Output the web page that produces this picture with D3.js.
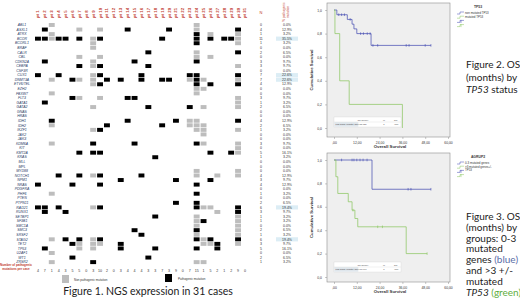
<!DOCTYPE html>
<html>
<head>
<meta charset="utf-8">
<script src="https://cdn.jsdelivr.net/npm/d3@7"></script>
<style>
body { margin: 0; background: #fff; }
svg { display: block; font-family: "Liberation Sans", Arial, sans-serif; }
.cap { font-family: Lato, "Open Sans", sans-serif; }
</style>
</head>
<body>
<div id="container"></div>
<script>
/* CONSTANTS AND GLOBALS */
const width = 520;
const height = 298;

/* DATA - figure 1 */
const genes = ["ABL1","ASXL1","ATRX","BCOR","BCORL1","BRAF","CALR","CBL","CDKN2A","CEBPA","CSF3R","CUX1","DNMT3A","ETV6/TEL","EZH2","FBXW7","FLT3","GATA1","GATA2","GNAS","HRAS","IDH1","IDH2","IKZF1","JAK2","JAK3","KDM6A","KIT","KMT2A","KRAS","MLL","MPL","MYD88","NOTCH1","NPM1","NRAS","PDGFRA","PHF6","PTEN","PTPN11","RAD21","RUNX1","SETBP1","SF3B1","SMC1A","SMC3","SRSF2","STAG2","TET2","TP53","U2AF1","WT1","ZRSR2"];
const patients = ["pt 1","pt 2","pt 3","pt 4","pt 5","pt 6","pt 7","pt 8","pt 9","pt 10","pt 11","pt 12","pt 13","pt 14","pt 15","pt 16","pt 17","pt 18","pt 19","pt 20","pt 21","pt 22","pt 23","pt 24","pt 25","pt 26","pt 27","pt 28","pt 29","pt 30","pt 31"];
const geneCounts = [0,4,1,11,1,0,2,0,3,3,0,7,7,4,0,0,3,1,2,0,0,4,2,1,0,0,3,0,5,1,0,0,0,4,3,4,0,1,0,2,6,3,1,1,0,2,1,6,3,5,0,2,1];
const genePct = ["0.0%","12.9%","3.2%","35.5%","3.2%","0.0%","6.5%","0.0%","9.7%","9.7%","0.0%","22.6%","22.6%","12.9%","0.0%","0.0%","9.7%","3.2%","6.5%","0.0%","0.0%","12.9%","6.5%","3.2%","0.0%","0.0%","9.7%","0.0%","16.1%","3.2%","0.0%","0.0%","0.0%","12.9%","9.7%","12.9%","0.0%","3.2%","0.0%","6.5%","19.4%","9.7%","3.2%","3.2%","0.0%","6.5%","3.2%","19.4%","9.7%","16.1%","0.0%","6.5%","3.2%"];
const highlighted = ["BCOR","CUX1","DNMT3A","RAD21","STAG2"];
const caseCounts = [4,7,1,4,3,5,5,0,3,10,2,0,3,4,4,4,3,3,7,3,9,0,7,15,1,5,2,1,2,9,0];

// pathogenic (black) and non pathogenic (grey) mutations: gene -> patient numbers
const pathogenic = [
  ["ASXL1",[2,14,20,30]], ["ATRX",[24]], ["BCOR",[1,2,4,5,7,10,19,24,26,28,29]], ["BCORL1",[24]],
  ["CALR",[17,30]], ["CDKN2A",[2,15,24]], ["CEBPA",[7,10,17]], ["CUX1",[1,4,10,16,23,24,30]],
  ["DNMT3A",[6,11,13,16,19,20,24]], ["ETV6/TEL",[10,24,26,30]], ["FLT3",[6,14,15]], ["GATA1",[2]],
  ["GATA2",[17,23]], ["IDH1",[3,14,21,30]], ["IDH2",[11,19]], ["IKZF1",[10]], ["KDM6A",[9,15,24]],
  ["KMT2A",[7,9,10,26,29]], ["KRAS",[18]], ["NOTCH1",[4,7,10,16]], ["NPM1",[13,21,26]],
  ["NRAS",[1,6,10,24]], ["PHF6",[24]], ["PTPN11",[21,24]], ["RAD21",[1,2,4,10,24,30]],
  ["RUNX1",[2,5,30]], ["SETBP1",[18]], ["SF3B1",[25]], ["SMC3",[15,24]], ["SRSF2",[16]],
  ["STAG2",[5,7,10,24,26,30]], ["TET2",[6,13,27]], ["TP53",[2,13,18,24,27]], ["WT1",[6,17]], ["ZRSR2",[9]]
];
const nonPathogenic = [
  ["ABL1",[3,24]], ["ASXL1",[7,10,24]], ["ATRX",[3,26,30]], ["BCOR",[3,9,30]], ["BCORL1",[9,30]],
  ["BRAF",[9]], ["CALR",[24]], ["CBL",[7,10,24,26]], ["CDKN2A",[9]], ["CEBPA",[9,30]], ["CUX1",[9]],
  ["DNMT3A",[3,7,9,23,25,30]], ["ETV6/TEL",[9]], ["EZH2",[24,25]], ["FBXW7",[3,24]], ["FLT3",[7,10,30]],
  ["GATA1",[30]], ["GATA2",[9,25,30]], ["IDH1",[23,24]], ["IDH2",[3,23,24,25]], ["IKZF1",[9,24,25,30]],
  ["JAK2",[25]], ["KDM6A",[3,25,30]], ["KIT",[30]], ["KMT2A",[30]], ["MYD88",[24,30]],
  ["NOTCH1",[9,24,27,30]], ["PHF6",[3]], ["RAD21",[9,25,26]], ["RUNX1",[27]], ["SETBP1",[24,30]],
  ["SF3B1",[24,30]], ["SMC1A",[24,30]], ["SMC3",[24,30]], ["SRSF2",[24,30]], ["STAG2",[3,9,25]],
  ["TET2",[7,9,10,25,26,30]], ["TP53",[7,9]], ["U2AF1",[3]], ["ZRSR2",[3,24,25]]
];

/* DATA - Kaplan-Meier curves: [month, survival] steps, censored months */
const tp53WildSteps = [[0,1],[1.5,0.96],[7,0.92],[9.5,0.88],[10.5,0.84],[12,0.80],[19.5,0.70],[51,0.70]];
const tp53WildCensor = [[2.5,0.96],[4,0.96],[5.5,0.96],[8.5,0.92],[14,0.80],[15.5,0.80],[17.5,0.80],[19,0.80],[20.5,0.70],[23,0.70],[38,0.70],[39.5,0.70],[48,0.70],[51,0.70]];
const tp53MutSteps = [[0,1],[0.5,0.8],[3,0.4],[8,0.2],[36,0],[36,0]];
const tp53MutCensor = [];
const lowSteps = [[0,1],[20,0.75],[51,0.75]];
const lowCensor = [[4,1],[9.5,1],[10.5,1],[12,1],[13.7,1],[15.3,1],[17.4,1],[39,0.75],[40.5,0.75],[51,0.75]];
const highSteps = [[0,1],[1,0.857],[2,0.714],[7.5,0.643],[9.5,0.571],[11,0.5],[12.5,0.429],[38,0.2],[49,0.2]];
const highCensor = [[10,0.571],[23,0.429],[25.5,0.429],[49,0.2]];
const survTicks = [0,0.2,0.4,0.6,0.8,1];
const monthTicks = [0,12,24,36,48,60];

const blue = "#4048b0";
const green = "#86c45a";

/* SVG */
const svg = d3.select("#container")
  .append("svg")
  .attr("width", width)
  .attr("height", height);

/* FIGURE 1 - heatmap */
const xScale = d3.scaleBand().domain(patients).range([34.5, 248.4]);
const yScale = d3.scaleBand().domain(genes).range([22.7, 264.4]);
const bw = xScale.bandwidth(), bh = yScale.bandwidth();

// highlight behind percentages
svg.selectAll("rect.hl")
  .data(highlighted)
  .join("rect")
  .attr("x", 276).attr("width", 22)
  .attr("y", d => yScale(d) + 0.2).attr("height", bh - 0.4)
  .attr("fill", "#dcedf5");

function cells(list, color) {
  const flat = list.flatMap(([g, pts]) => pts.map(p => ({gene: g, pt: "pt " + p})));
  svg.append("g").selectAll("rect")
    .data(flat)
    .join("rect")
    .attr("x", d => xScale(d.pt) + 0.5)
    .attr("width", bw - 1)
    .attr("y", d => yScale(d.gene) + 0.3)
    .attr("height", bh - 0.6)
    .attr("fill", color);
}
cells(nonPathogenic, "#bdbdbd");
cells(pathogenic, "#000");

// column labels
svg.selectAll("text.pt")
  .data(patients)
  .join("text")
  .attr("transform", d => `translate(${xScale(d) + bw / 2 + 1.5},18) rotate(-90)`)
  .attr("font-size", 4.3)
  .attr("font-weight", "bold")
  .attr("fill", "#c0392b")
  .text(d => d);

// gene labels
svg.selectAll("text.gene")
  .data(genes)
  .join("text")
  .attr("x", 22)
  .attr("y", d => yScale(d) + bh / 2 + 1.2)
  .attr("text-anchor", "middle")
  .attr("font-size", 3.5)
  .attr("font-style", "italic")
  .attr("fill", "#1f3864")
  .text(d => d);

// counts and percentages
svg.selectAll("text.cnt")
  .data(genes)
  .join("text")
  .attr("x", 261)
  .attr("y", d => yScale(d) + bh / 2 + 1.2)
  .attr("text-anchor", "middle")
  .attr("font-size", 3.5)
  .attr("fill", "#333")
  .text((d, i) => geneCounts[i]);
svg.selectAll("text.pct")
  .data(genes)
  .join("text")
  .attr("x", 287)
  .attr("y", d => yScale(d) + bh / 2 + 1.2)
  .attr("text-anchor", "middle")
  .attr("font-size", 3.5)
  .attr("fill", "#333")
  .text((d, i) => genePct[i]);

svg.append("text").attr("x", 261).attr("y", 14).attr("text-anchor", "middle")
  .attr("font-size", 4).attr("fill", "#c0392b").text("N");
svg.append("text").attr("transform", "translate(285,12) rotate(-90)")
  .attr("text-anchor", "middle").attr("font-size", 3.2).attr("fill", "#c0392b")
  .selectAll("tspan").data(["% pathogenic", "mutation"]).join("tspan")
  .attr("x", 0).attr("dy", (d, i) => i ? 3.6 : 0).text(d => d);

// pathogenic mutations per case
svg.selectAll("text.case")
  .data(patients)
  .join("text")
  .attr("x", d => xScale(d) + bw / 2)
  .attr("y", 272)
  .attr("text-anchor", "middle")
  .attr("font-size", 3.6)
  .attr("fill", "#333")
  .text((d, i) => caseCounts[i]);
svg.append("text").attr("x", 16).attr("y", 266).attr("text-anchor", "middle")
  .attr("font-size", 3).attr("font-weight", "bold").attr("fill", "#c0392b")
  .selectAll("tspan").data(["Number of pathogenic", "mutations per case"]).join("tspan")
  .attr("x", 16).attr("dy", (d, i) => i ? 4 : 0).text(d => d);

// legend
svg.append("rect").attr("x", 62).attr("y", 275).attr("width", 7).attr("height", 8).attr("fill", "#bdbdbd");
svg.append("text").attr("x", 74).attr("y", 280.5).attr("font-size", 3).attr("fill", "#333").text("Non pathogenic mutation");
svg.append("rect").attr("x", 165).attr("y", 274).attr("width", 7).attr("height", 8).attr("fill", "#000");
svg.append("text").attr("x", 178).attr("y", 279.5).attr("font-size", 3).attr("fill", "#333").text("Pathogenic mutation");

svg.append("text").attr("class", "cap")
  .attr("x", 148).attr("y", 295).attr("text-anchor", "middle")
  .attr("font-size", 10.5).attr("fill", "#222")
  .text("Figure 1.  NGS expression in 31 cases");

/* FIGURES 2 and 3 - Kaplan-Meier */
const xSurv = d3.scaleLinear().domain([0, 60]).range([334, 448]);

function km(top, bottom, y1, y0, series, info, legendItems) {
  const ySurv = d3.scaleLinear().domain([0, 1]).range([y0, y1]);
  const g = svg.append("g");
  g.append("rect")
    .attr("x", 327).attr("y", top).attr("width", 123).attr("height", bottom - top)
    .attr("fill", "#efefef").attr("stroke", "#8c8c8c").attr("stroke-width", 0.6);

  const yAxis = d3.axisLeft(ySurv).tickValues(survTicks).tickSize(2)
    .tickFormat(d => d3.format(".1f")(d).replace(".", ","));
  g.append("g").attr("transform", "translate(327,0)").call(yAxis)
    .call(a => a.select(".domain").remove())
    .call(a => a.selectAll("text").attr("font-size", 3.4).attr("fill", "#333"))
    .call(a => a.selectAll("line").attr("stroke", "#777").attr("stroke-width", 0.4));

  const xAxis = d3.axisBottom(xSurv).tickValues(monthTicks).tickSize(2)
    .tickFormat(d => d === 0 ? ",00" : d + ",00");
  g.append("g").attr("transform", `translate(0,${bottom})`).call(xAxis)
    .call(a => a.select(".domain").remove())
    .call(a => a.selectAll("text").attr("font-size", 3.4).attr("fill", "#333").attr("dy", "0.5em"))
    .call(a => a.selectAll("line").attr("stroke", "#777").attr("stroke-width", 0.4));

  g.append("text").attr("x", 390).attr("y", bottom + 10.5).attr("text-anchor", "middle")
    .attr("font-size", 4.3).attr("font-weight", "bold").attr("fill", "#333").text("Overall Survival");
  g.append("text").attr("transform", `translate(313,${(top + bottom) / 2}) rotate(-90)`)
    .attr("text-anchor", "middle").attr("font-size", 4.3).attr("font-weight", "bold")
    .attr("fill", "#333").text("Cumulative Survival");

  const line = d3.line().curve(d3.curveStepAfter)
    .x(d => xSurv(d[0])).y(d => ySurv(d[1]));
  series.forEach(s => {
    g.append("path").attr("d", line(s.steps)).attr("fill", "none")
      .attr("stroke", s.color).attr("stroke-width", 0.7);
    g.selectAll(null).data(s.censor).join("line")
      .attr("x1", d => xSurv(d[0])).attr("x2", d => xSurv(d[0]))
      .attr("y1", d => ySurv(d[1]) - 1.3).attr("y2", d => ySurv(d[1]) + 1.3)
      .attr("stroke", s.color).attr("stroke-width", 0.6);
  });

  // log rank table
  const ty = bottom - 20;
  g.append("rect").attr("x", 334).attr("y", ty).attr("width", 67).attr("height", 10)
    .attr("fill", "#fff").attr("stroke", "#ccc").attr("stroke-width", 0.3);
  g.append("rect").attr("x", 334.3).attr("y", ty + 5.2).attr("width", 24).attr("height", 4.5)
    .attr("fill", "#dfe6ec");
  g.append("line").attr("x1", 334).attr("x2", 401).attr("y1", ty + 5).attr("y2", ty + 5)
    .attr("stroke", "#ccc").attr("stroke-width", 0.3);
  [[363, "Chi-Square"], [384, "df"], [396, "Sig."]].forEach(([cx, t]) =>
    g.append("text").attr("x", cx).attr("y", ty + 3.6).attr("font-size", 2.2)
      .attr("text-anchor", "middle").attr("fill", "#555").text(t));
  g.append("text").attr("x", 335.5).attr("y", ty + 8.3).attr("font-size", 2.3).attr("fill", "#444").text("Log Rank (Mantel-Cox)");
  [[363, info.chi], [384, "1"], [396, ",000"]].forEach(([cx, t]) =>
    g.append("text").attr("x", cx).attr("y", ty + 8.3).attr("font-size", 2.3)
      .attr("text-anchor", "middle").attr("fill", "#444").text(t));

  // legend
  g.append("text").attr("x", 478).attr("y", top + 5).attr("text-anchor", "middle")
    .attr("font-size", 3.4).attr("font-weight", "bold").attr("fill", "#333").text(info.name);
  legendItems.forEach((it, i) => {
    const ly = top + 10 + i * 4.2;
    g.append("path").attr("d", `M457,${ly + 1}h3v-2h4`).attr("fill", "none")
      .attr("stroke", it.color).attr("stroke-width", 0.5);
    if (it.cens) g.append("line").attr("x1", 461).attr("x2", 461).attr("y1", ly - 1.5).attr("y2", ly + 1.5)
      .attr("stroke", it.color).attr("stroke-width", 0.5);
    g.append("text").attr("x", 465).attr("y", ly + 0.8).attr("font-size", 2.9).attr("fill", "#333")
      .selectAll("tspan").data(it.label).join("tspan")
      .attr("x", 465).attr("dy", (d, j) => j ? 3.3 : 0).text(d => d);
  });
}

km(3, 137, 10, 128,
  [{steps: tp53WildSteps, censor: tp53WildCensor, color: blue},
   {steps: tp53MutSteps, censor: tp53MutCensor, color: green}],
  {name: "TP53", chi: "15,636"},
  [{color: blue, label: ["non mutated TP53"]}, {color: green, label: ["mutated TP53"]},
   {color: blue, label: [""], cens: true}, {color: green, label: [""], cens: true}]);

km(153, 282, 160, 277,
  [{steps: lowSteps, censor: lowCensor, color: blue},
   {steps: highSteps, censor: highCensor, color: green}],
  {name: "AGRUP2", chi: "11,907"},
  [{color: blue, label: ["0-3 mutated genes"]}, {color: green, label: [">3 mutated genes+/-", "TP53"]},
   {color: blue, label: [""], cens: true}, {color: green, label: [""], cens: true}]);

// captions
const cap2 = [[["Figure 2.  OS", ""]], [["(months) by", ""]], [["TP53", "i"], [" status", ""]]];
const cap3 = [[["Figure 3.  OS", ""]], [["(months) by", ""]], [["groups: 0-3", ""]], [["mutated", ""]],
  [["genes ", ""], ["(blue)", "b"]], [["and >3 +/-", ""]], [["mutated", ""]], [["TP53", "i"], [" (green)", "g"]]];

function caption(lines, x0, y0, step) {
  lines.forEach((segs, i) => {
    const t = svg.append("text").attr("class", "cap").attr("x", x0).attr("y", y0 + i * step)
      .attr("font-size", 10).attr("fill", "#222");
    segs.forEach(([txt, st]) => {
      t.append("tspan").text(txt)
        .attr("font-style", st === "i" ? "italic" : null)
        .attr("fill", st === "b" ? "#5a6ea8" : st === "g" ? "#5fae3e" : null);
    });
  });
}
caption(cap2, 466, 68, 12.5);
caption(cap3, 466, 220, 10.8);
</script>
</body>
</html>
